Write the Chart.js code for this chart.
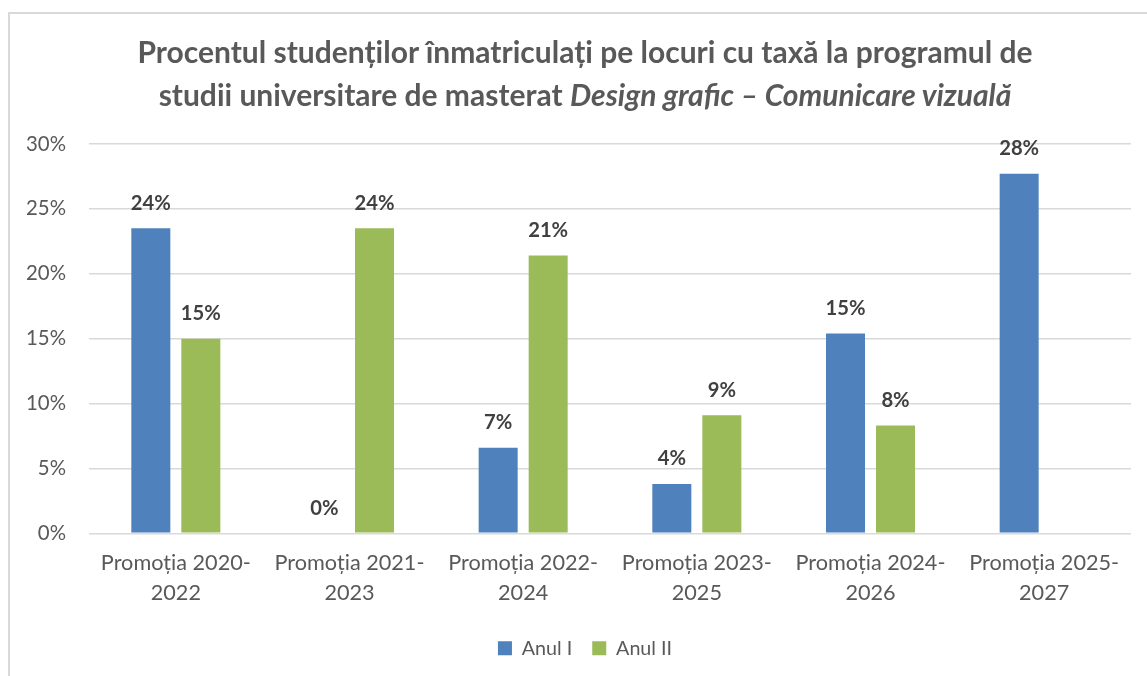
<!DOCTYPE html>
<html><head><meta charset="utf-8">
<script src="https://cdn.jsdelivr.net/npm/chart.js@4.4.1/dist/chart.umd.min.js"></script>
<style>
html,body{margin:0;padding:0;width:1147px;height:676px;overflow:hidden;background:#fff;}
#frame{position:absolute;left:8px;top:12px;width:1200px;height:700px;border-top:2px solid #d9d9d9;border-left:2px solid #d9d9d9;box-sizing:border-box;}
#wrap{position:absolute;left:8px;top:0;width:1154px;height:676px;}
#title{position:absolute;left:8px;top:30px;width:1154px;text-align:center;font-family:Lato,sans-serif;font-weight:bold;color:#595959;line-height:43px;white-space:nowrap;}
</style></head><body>
<div id="frame"></div>
<div id="wrap"><canvas id="c"></canvas></div>
<div id="title"><span id="t1">Procentul studenților înmatriculați pe locuri cu taxă la programul de</span><br>studii universitare de masterat <i>Design grafic – Comunicare vizuală</i></div>
<script>
const categories = ['Promoția 2020-2022','Promoția 2021-2023','Promoția 2022-2024','Promoția 2023-2025','Promoția 2024-2026','Promoția 2025-2027'];
const anulI  = [23.5, 0, 6.6, 3.8, 15.4, 27.7];
const anulII = [15.0, 23.5, 21.4, 9.1, 8.3, null];
const seriesNames = ['Anul I','Anul II'];
const yTicks = [0,5,10,15,20,25,30];

const FAM = 'Lato';
function fit(text, weight, style, target){
  const c=document.createElement('canvas').getContext('2d');
  c.font=style+' '+weight+' 100px '+FAM;
  return 100*target/c.measureText(text).width;
}
const titleSize = fit('Procentul studenților înmatriculați pe locuri cu taxă la programul de','bold','normal',896);
document.getElementById('title').style.fontSize = titleSize+'px';
const tickSize = fit('25%','normal','normal',40);
const xSize = fit('Promoția 2020-','normal','normal',150);
const dataSize = fit('24%','bold','normal',40);
const legSize = fit('Anul II','normal','normal',56);

const labels = categories.map(c => { const i=c.lastIndexOf('-'); return [c.slice(0,i+1), c.slice(i+1)]; });

const dataLabels = {
  id:'dataLabels',
  afterDatasetsDraw(chart){
    const ctx=chart.ctx;
    ctx.save();
    ctx.font='bold '+dataSize+'px '+FAM;
    ctx.fillStyle='#404040';
    ctx.textAlign='center';
    ctx.textBaseline='middle';
    chart.data.datasets.forEach((ds,di)=>{
      const meta=chart.getDatasetMeta(di);
      meta.data.forEach((bar,i)=>{
        const v=ds.data[i];
        if(v===null||v===undefined) return;
        ctx.fillText(Math.round(v)+'%', bar.x, bar.y-25);
      });
    });
    ctx.restore();
  }
};

new Chart(document.getElementById('c'), {
  type:'bar',
  data:{
    labels: labels,
    datasets:[
      {label:seriesNames[0], data:anulI, backgroundColor:'#4F81BD', categoryPercentage:0.576, barPercentage:0.78},
      {label:seriesNames[1], data:anulII, backgroundColor:'#9BBB59', categoryPercentage:0.576, barPercentage:0.78}
    ]
  },
  options:{
    responsive:true, maintainAspectRatio:false, animation:false,
    layout:{padding:{left:0,right:0,top:144,bottom:8}},
    plugins:{
      title:{display:false},
      tooltip:{enabled:false},
      legend:{position:'bottom', labels:{boxWidth:14, boxHeight:14, color:'#595959', font:{family:FAM, size:legSize}, padding:20}}
    },
    scales:{
      x:{
        grid:{display:false, drawTicks:false},
        border:{display:false},
        ticks:{color:'#595959', font:{family:FAM, size:xSize, lineHeight:'30px'}, padding:15, maxRotation:0, autoSkip:false},
        afterFit(s){ s.height = 85; }
      },
      y:{
        min:0, max:30,
        afterBuildTicks(s){ s.ticks = yTicks.map(v=>({value:v})); },
        grid:{color:'#d9d9d9', lineWidth:1.5, drawTicks:false},
        border:{display:false},
        ticks:{color:'#595959', font:{family:FAM, size:tickSize}, padding:23, callback:v=>v+'%'},
        afterFit(s){ s.width = 81; }
      },
      yRight:{
        position:'right', min:0, max:30,
        grid:{display:false, drawTicks:false},
        border:{display:false},
        ticks:{display:false},
        afterFit(s){ s.width = 31; }
      }
    }
  },
  plugins:[dataLabels]
});
</script>
</body></html>
